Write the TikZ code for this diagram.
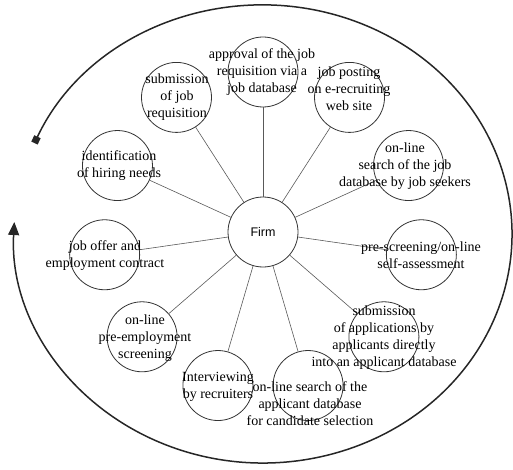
\documentclass[tikz,border=0pt]{standalone}
\usepackage{fontspec}
\setmainfont{Liberation Serif}
\newfontfamily\firmfont{Liberation Sans}
\usetikzlibrary{arrows.meta,calc}
\begin{document}
\begin{tikzpicture}[x=1pt,y=1pt,
  sat/.style={circle,draw=black!80,line width=0.8pt,minimum size=70pt,inner sep=0pt},
  hub/.style={circle,draw=black!80,line width=0.8pt,minimum size=70pt,inner sep=0pt,font=\firmfont\fontsize{12.5}{14}\selectfont},
  lbl/.style={align=center,font=\fontsize{14}{17}\selectfont,inner sep=0pt},
  spoke/.style={draw=black!65,line width=0.6pt},
  cyclearrow/.style={line width=1.5pt,draw=black!85}]
\useasboundingbox (0,0) rectangle (513,469);
\node[hub] (firm) at (263,237) {Firm};
\foreach \n/\a in {appr/90,post/57.27,jsrch/24.55,presc/-8.18,subapp/-40.91,asrch/-73.64,intv/-106.36,preemp/-139.09,offer/-171.82,ident/155.45,subreq/122.73}{
  \node[sat] (\n) at ($(firm.center)+(\a:160)$) {};
  \draw[spoke] (firm) -- (\n);
}
\node[lbl] (apprt) at (262,397) {approval of the job\\requisition via a\\job database};
\node[lbl] (postt) at (349,380) {job posting\\on e-recruiting\\web site};
\node[lbl] (subreqt) at (177,372) {submission\\of job\\requisition};
\node[lbl] (identt) at (119,303.5) {identification\\of hiring needs};
\node[lbl] (jsrcht) at (405,303) {on-line\\search of the job\\database by job seekers};
\node[lbl] (offert) at (105,213.5) {job offer and\\employment contract};
\node[lbl] (presct) at (421,213.5) {pre-screening/on-line\\self-assessment};
\node[lbl] (preempt) at (145,131) {on-line\\pre-employment\\screening};
\node[lbl] (subappt) at (384,131) {submission\\of applications by\\applicants directly\\into an applicant database};
\node[lbl] (intvt) at (218,82) {Interviewing\\by recruiters};
\node[lbl] (asrcht) at (310,65) {on-line search of the\\applicant database\\for candidate selection};
\draw[cyclearrow,{Square[length=7pt,width=7pt]}-{Triangle[length=13pt,width=11pt]}]
  ($(263,235)+(156.6:249 and 229)$) arc[start angle=156.6,end angle=-183,x radius=249,y radius=229];
\end{tikzpicture}
\end{document}
